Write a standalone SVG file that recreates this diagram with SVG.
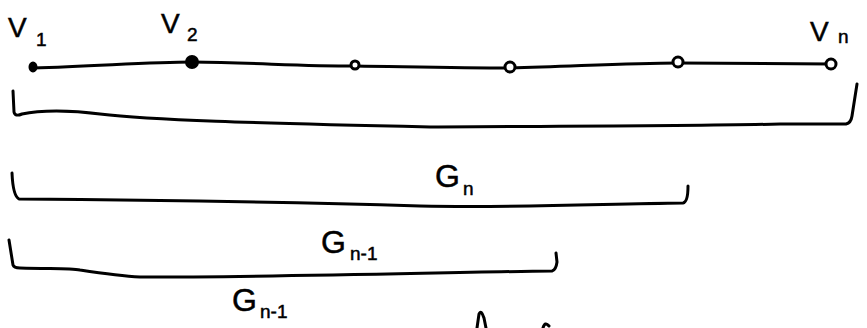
<svg xmlns="http://www.w3.org/2000/svg" width="867" height="328" viewBox="0 0 867 328">
<style>
.s{fill:none;stroke:#000;stroke-width:3;stroke-linecap:round;stroke-linejoin:round}
.n{fill:#fff;stroke:#000;stroke-width:3}
.f{fill:#000;stroke:#000;stroke-width:2}
.t{font-family:"Liberation Sans",Arial,sans-serif;fill:#000;stroke:#000;stroke-width:0.5}
.big{font-size:28px}
.sub{font-size:19px}
.g{font-size:32px}
</style>
<rect width="867" height="328" fill="#fff"/>
<g id="connectors">
<path class="s" d="M33,68 C100,66 150,62 192,62 C260,63 300,66 355,66 C420,67 460,68 510,68 C580,66 630,63 678,63 L831,64"/>
</g>
<g id="v1"><ellipse class="f" cx="33" cy="67" rx="3.5" ry="4.5"/><text class="t big" x="8" y="37">V</text><text class="t sub" x="36" y="46">1</text></g>
<g id="v2"><circle class="f" cx="192" cy="62" r="6"/><text class="t big" x="161" y="33">V</text><text class="t sub" x="187" y="41">2</text></g>
<g id="v3"><circle class="n" cx="355" cy="65" r="4"/></g>
<g id="v4"><circle class="n" cx="510" cy="67" r="5"/></g>
<g id="v5"><circle class="n" cx="678" cy="62" r="5"/></g>
<g id="vn"><circle class="n" cx="831" cy="64" r="5"/><text class="t big" x="810" y="41">V</text><text class="t sub" x="838" y="43">n</text></g>
<g id="bracket-1"><path class="s" d="M13,91 L14,112 Q15,117 22,114 C40,110 70,110 100,114 C150,120 250,123 430,127 C600,126 700,126 780,124 L846,124 Q851,123 852,116 L857,84"/></g>
<g id="bracket-2"><path class="s" d="M12,173 Q13,196 19,199 C150,200 250,201 420,206 C520,208 600,204 683,203 Q688,202 688,186"/><text class="t g" x="435" y="187">G</text><text class="t sub" x="463" y="195">n</text></g>
<g id="bracket-3"><path class="s" d="M9,240 L13,265 Q14,268 20,268 C50,269 70,268 80,270 C100,273 120,276 140,277 C300,277 450,272 552,271 Q556,270 557,262 L556,253"/><text class="t g" x="321" y="253">G</text><text class="t sub" x="350" y="260">n-1</text></g>
<g id="label-g"><text class="t g" x="232" y="311">G</text><text class="t sub" x="260" y="318">n-1</text></g>
<path class="s" d="M477,328 L479,314 Q481,309 484,318 L486,328"/>
<path class="s" d="M543,328 Q545,321 549,326"/>
</svg>
